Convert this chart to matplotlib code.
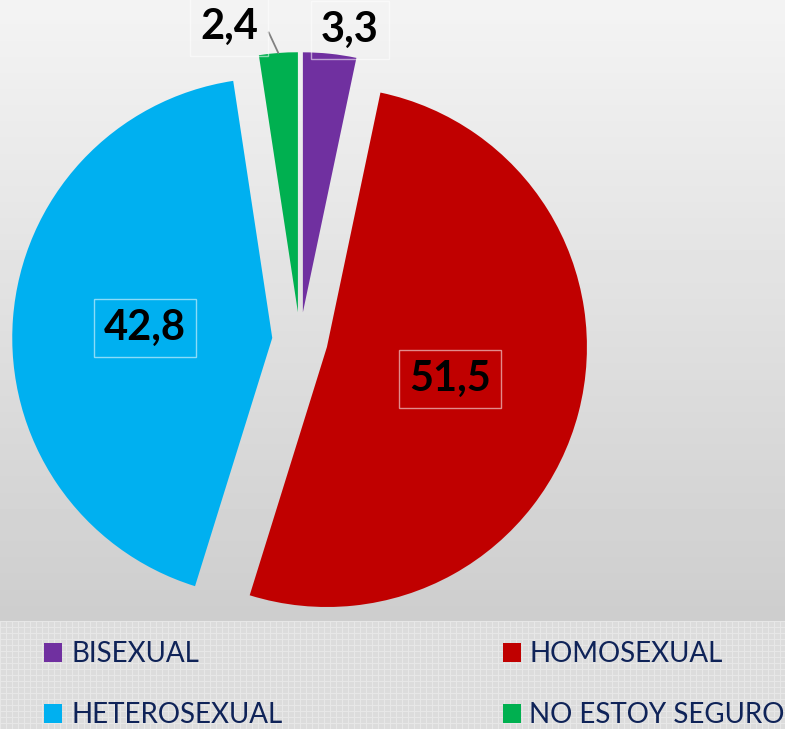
import numpy as np
import matplotlib.pyplot as plt
from matplotlib.patches import Rectangle

# data
labels = ['BISEXUAL', 'HOMOSEXUAL', 'HETEROSEXUAL', 'NO ESTOY SEGURO']
values = [3.3, 51.5, 42.8, 2.4]
value_text = ['3,3', '51,5', '42,8', '2,4']
colors = ['#7030A0', '#C00000', '#00B0F0', '#00B050']

# label placement (angle shift in degrees, radius in pie units)
lab_shift = [-3.5, 0, 0, 9.2]
lab_rad = [1.10, 0.49, 0.49, 1.13]

W, H = 785, 729
fig = plt.figure(figsize=(W/100, H/100), dpi=100)

# background: grey gradient on top, textured strip for the legend
bg = fig.add_axes([0, 0, 1, 1])
bg.axis('off')
split = 621
img = np.zeros((H, W))
img[:split] = np.linspace(0.955, 0.805, split)[:, None]
strip = np.full((H-split, W), 0.86)
rr = np.arange(H-split)
cc = np.arange(W)
strip[rr % 6 == 0, :] = 0.905
strip[:, cc % 6 == 0] = 0.905
img[split:] = strip
bg.imshow(img, cmap='gray', vmin=0, vmax=1, aspect='auto',
          interpolation='nearest', extent=[0, W, H, 0])
bg.set_xlim(0, W)
bg.set_ylim(H, 0)

# pie
ax = fig.add_axes([0, 1-680/H, 600/W, 680/H])
wedges, _ = ax.pie(values, colors=colors, startangle=90, counterclock=False,
                   explode=[0.107]*len(values), radius=1,
                   wedgeprops=dict(linewidth=0))
ax.set_xlim(-600/520, 600/520)
ax.set_ylim(-680/520, 680/520)
ax.set_aspect('auto')

box = dict(boxstyle='square,pad=0.24', fc='none', ec=(1, 1, 1, 0.55), lw=1)
for i, w in enumerate(wedges):
    mid = (w.theta1 + w.theta2)/2
    a = np.deg2rad(mid + lab_shift[i])
    cx, cy = w.center
    tx = cx + lab_rad[i]*np.cos(a)
    ty = cy + lab_rad[i]*np.sin(a)
    if abs(lab_shift[i]) > 5:
        px = cx + np.cos(np.deg2rad(mid))
        py = cy + np.sin(np.deg2rad(mid))
        ax.annotate(value_text[i], xy=(px, py), xytext=(tx, ty),
                    ha='center', va='center', fontsize=30, fontweight='bold',
                    family=['Lato', 'DejaVu Sans'], color='black', bbox=box,
                    annotation_clip=False,
                    arrowprops=dict(arrowstyle='-', color='#808080', lw=1.3,
                                    shrinkA=0, shrinkB=0, relpos=(0.92, 0.35),
                                    connectionstyle='angle,angleA=0,angleB=115,rad=0'))
    else:
        ax.text(tx, ty, value_text[i], ha='center', va='center', fontsize=30,
                fontweight='bold', family=['Lato', 'DejaVu Sans'],
                color='black', bbox=box, clip_on=False)

# legend
sq_x = [44, 503]
tx_x = [71, 529]
base_y = [662, 723]
for i, (lab, col) in enumerate(zip(labels, colors)):
    c = i % 2
    r = i // 2
    bg.add_patch(Rectangle((sq_x[c], base_y[r]-19), 18, 19, fc=col, ec='none'))
    bg.text(tx_x[c], base_y[r], lab, ha='left', va='baseline', fontsize=20,
            family=['Lato', 'DejaVu Sans'], color='#0F2358')

plt.savefig('out.png', dpi=100)
